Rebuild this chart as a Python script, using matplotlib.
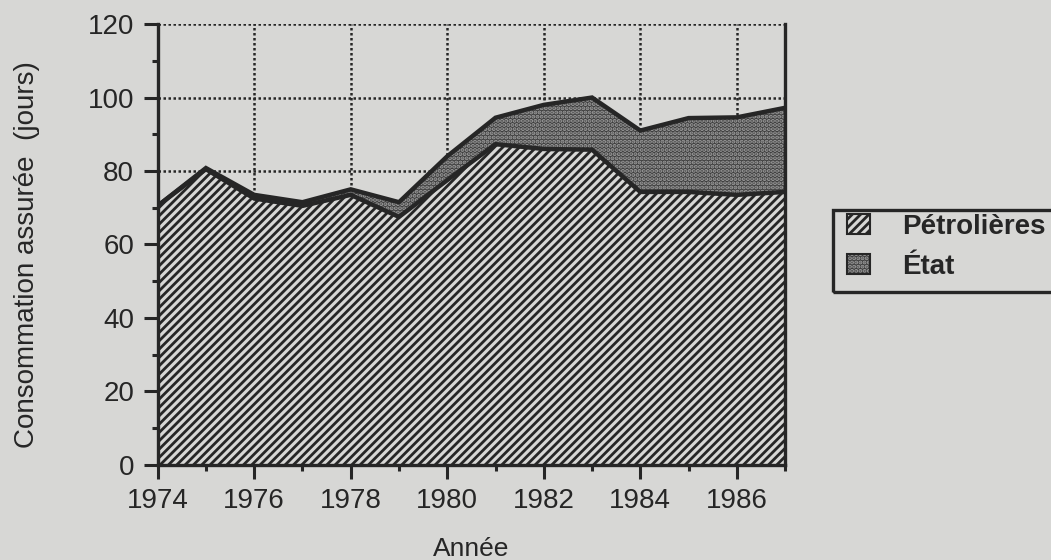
import matplotlib.pyplot as plt
from matplotlib.patches import Rectangle, Patch
import numpy as np

# Données
annees = [1974, 1975, 1976, 1977, 1978, 1979, 1980, 1981, 1982, 1983, 1984, 1985, 1986, 1987]
petrolieres = [70.5, 80.5, 72.5, 70.5, 73.5, 67.5, 77.5, 87.3, 86.0, 85.8, 74.3, 74.3, 73.5, 74.3]
total = [70.5, 80.8, 73.5, 71.5, 75.0, 71.5, 84.0, 94.5, 98.0, 100.0, 91.0, 94.4, 94.6, 97.2]
etat = [t - p for t, p in zip(total, petrolieres)]
noms = ['Pétrolières', 'État']

fond = '#d7d7d5'
encre = '#262626'
gris_etat = '#3e3e3e'
points_etat = '#9c9c9c'

plt.rcParams['font.family'] = ['Liberation Sans', 'DejaVu Sans']
plt.rcParams['hatch.linewidth'] = 2.0

fig = plt.figure(figsize=(10.51, 5.6), dpi=100, facecolor=fond)
ax = fig.add_axes([0.150, 0.170, 0.597, 0.787], facecolor=fond)

x = np.array(annees)
bas = np.array(petrolieres)
haut = bas + np.array(etat)

ax.fill_between(x, 0, bas, facecolor=fond, edgecolor=encre, hatch='////', linewidth=0, zorder=2)
ax.fill_between(x, bas, haut, facecolor=gris_etat, edgecolor=points_etat, hatch='....', linewidth=0, zorder=2)
ax.plot(x, bas, color=encre, lw=3.2, zorder=3, solid_joinstyle='miter')
ax.plot(x, haut, color=encre, lw=3.2, zorder=3, solid_joinstyle='miter')

ax.set_xlim(1974, 1987)
ax.set_ylim(0, 120)
ax.set_xticks(range(1974, 1987, 2))
ax.set_xticks(range(1974, 1988), minor=True)
ax.set_yticks(range(0, 121, 20))
ax.set_yticks(range(0, 121, 10), minor=True)

ax.grid(True, which='major', color=encre, linestyle=(0, (1, 1)), linewidth=1.8, zorder=1)
ax.set_axisbelow(True)

for s in ['left', 'bottom', 'right']:
    ax.spines[s].set_color(encre)
    ax.spines[s].set_linewidth(2.4)
ax.spines['top'].set_visible(False)

ax.tick_params(which='major', length=10, width=2.2, color=encre, labelsize=20, labelcolor=encre)
ax.tick_params(which='minor', length=4.5, width=2.2, color=encre)
ax.tick_params(axis='x', pad=7)
ax.tick_params(axis='y', pad=7)

ax.set_xlabel('Année', fontsize=19, color=encre, labelpad=16)
ax.set_ylabel('Consommation assurée  (jours)', fontsize=20, color=encre)
ax.yaxis.set_label_coords(-0.188, 0.476)

# poignées de légende : motif + bordure sombre
cadre = dict(facecolor='none', edgecolor=encre, linewidth=1.5)
poignees = [
    (Patch(facecolor=fond, edgecolor=encre, hatch='////', linewidth=0), Patch(**cadre)),
    (Patch(facecolor=gris_etat, edgecolor=points_etat, hatch='....', linewidth=0), Patch(**cadre)),
]
leg = fig.legend(poignees, noms, loc='center left', bbox_to_anchor=(847 / 1051, 1 - 247 / 560),
                 prop={'weight': 'bold', 'size': 20}, frameon=False,
                 handlelength=0.83, handleheight=0.72, borderpad=0, labelspacing=0.5,
                 handletextpad=1.15, borderaxespad=0)
for t in leg.get_texts():
    t.set_color(encre)

# cadre de la légende, qui sort à droite comme sur l'original
fig.patches.append(Rectangle((833 / 1051, 1 - 292 / 560), 240 / 1051, 82 / 560,
                             transform=fig.transFigure, facecolor='none',
                             edgecolor=encre, linewidth=2.4, zorder=5))

fig.savefig('out.png', dpi=100, facecolor=fond)
